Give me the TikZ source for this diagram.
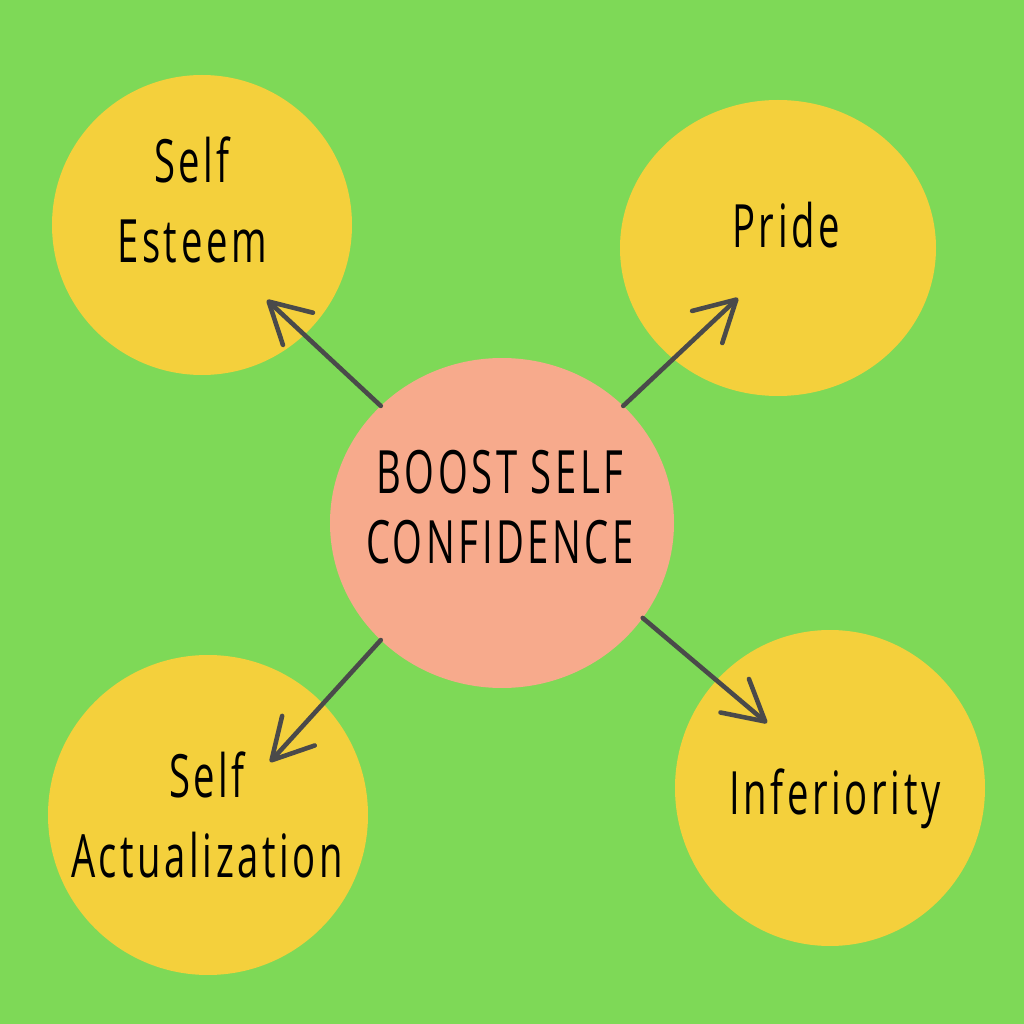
\documentclass[tikz,border=0pt]{standalone}
\usepackage{fontspec}
\setmainfont{Open Sans}[FakeStretch=0.64,LetterSpace=6]
\usetikzlibrary{positioning,shapes.geometric,arrows.meta}
\definecolor{bggreen}{HTML}{7ED957}
\definecolor{blobyellow}{HTML}{F4D03C}
\definecolor{blobpink}{HTML}{F7AA8C}
\definecolor{arrgrey}{HTML}{4A4A4A}
\tikzset{
  blob/.style  ={ellipse, fill=blobyellow, draw=none, inner sep=0pt, outer sep=0pt},
  blobc/.style ={blob, fill=blobpink},
  txt/.style   ={align=center, font=\fontsize{17}{23}\selectfont, text=black, inner sep=0pt},
  fl/.style    ={-{Straight Barb[length=4mm,width=4.4mm,round]}, line width=1.3pt,
                 draw=arrgrey, line cap=round}
}

\begin{document}
\begin{tikzpicture}
  \fill[bggreen] (0,0) rectangle (10.24,10.24);
  \useasboundingbox (0,0) rectangle (10.24,10.24);
  \node[blob,minimum width=30mm,minimum height=30mm] (esteem) at (2.02,7.99) {};
  \node[blob,minimum width=31.6mm,minimum height=29.6mm] (pride) at (7.78,7.76) {};
  \node[blob,minimum width=32mm,minimum height=32mm] (actual) at (2.08,2.09) {};
  \node[blob,minimum width=31mm,minimum height=31.6mm] (infer) at (8.30,2.36) {};
  \node[blobc,minimum width=34.4mm,minimum height=33mm] (boost) at (5.02,5.01) {};
  \node[txt] (esteemt) at (1.92,8.24) {Self\\Esteem};
  \node[txt,anchor=base] (pridet) at (7.86,7.76) {Pride};
  \node[txt] (actualt) at (2.07,2.09) {Self\\Actualization};
  \node[txt,anchor=base] (infert) at (8.35,2.09) {Inferiority};
  \node[txt,font=\fontsize{17}{20}\selectfont] (boostt) at (5.00,5.17) {BOOST SELF\\CONFIDENCE};
  \coordinate (tipesteem) at (2.67,7.24);
  \coordinate (tippride) at (7.38,7.26);
  \coordinate (tipinfer) at (7.67,3.01);
  \coordinate (tipactual) at (2.70,2.62);
  \draw[fl] (boost.136) -- (tipesteem); \draw[fl] (boost.44) -- (tippride);
  \draw[fl] (boost.-34) -- (tipinfer); \draw[fl] (boost.-136) -- (tipactual);
\end{tikzpicture}
\end{document}
